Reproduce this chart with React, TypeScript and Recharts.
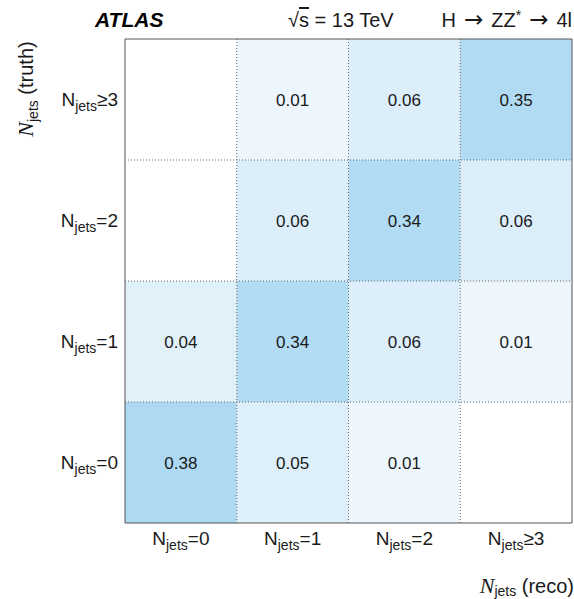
import React from 'react';
import {
  ScatterChart,
  Scatter,
  XAxis,
  YAxis,
  ReferenceArea,
  ReferenceLine,
} from 'recharts';

// Bin labels (reco on x, truth on y), lowest bin first
const recoBins = ['=0', '=1', '=2', '≥3'];
const truthBins = ['=0', '=1', '=2', '≥3'];

// Migration fractions, one row per truth bin, columns are reco bins
const truthRow0 = [0.38, 0.05, 0.01, 0];
const truthRow1 = [0.04, 0.34, 0.06, 0.01];
const truthRow2 = [0, 0.06, 0.34, 0.06];
const truthRow3 = [0, 0.01, 0.06, 0.35];
const truthRows = [truthRow0, truthRow1, truthRow2, truthRow3];

const cells = truthRows.flatMap((row, truth) =>
  row.map((value, reco) => ({ reco, truth, value }))
);

const binCenters = [0, 1, 2, 3];
const binEdges = [0.5, 1.5, 2.5];
const domain: [number, number] = [-0.5, 3.5];

const W = 574;
const H = 599;
const SANS = '"Liberation Sans", Arial, Helvetica, sans-serif';
const SERIF = '"Liberation Serif", "Times New Roman", serif';
const ARROW = '"DejaVu Sans", sans-serif';
const TEXT = '#1a1a1a';

// White -> light blue, square-root scaled so small fractions stay visible
const MAX_FRACTION = 0.38;
const TOP_RGB = [174, 217, 243];
function cellColor(v: number): string {
  if (v <= 0) return '#ffffff';
  const t = 0.08 + 0.92 * Math.min(1, Math.sqrt(v / MAX_FRACTION));
  const c = TOP_RGB.map((ch) => Math.round(255 - (255 - ch) * t));
  return `rgb(${c[0]},${c[1]},${c[2]})`;
}

function NjetsLabel(props: any) {
  const { x, y, text, anchor } = props;
  return (
    <text x={x} y={y} textAnchor={anchor} fill={TEXT} fontFamily={SANS}>
      <tspan fontSize={19}>N</tspan>
      <tspan fontSize={14} dy={5}>jets</tspan>
      <tspan fontSize={19} dy={-5}>{text}</tspan>
    </text>
  );
}

function XTick(props: any) {
  const { x, y, payload } = props;
  return <NjetsLabel x={x} y={y + 20} anchor="middle" text={recoBins[payload.value]} />;
}

function YTick(props: any) {
  const { x, y, payload } = props;
  return <NjetsLabel x={x} y={y + 6} anchor="end" text={truthBins[payload.value]} />;
}

function ValueLabel(props: any) {
  const { cx, cy, payload } = props;
  if (!payload || payload.value <= 0) return <g />;
  return (
    <text
      x={cx}
      y={cy + 6}
      textAnchor="middle"
      fontSize={17}
      fontFamily={SANS}
      fill={TEXT}
    >
      {payload.value.toFixed(2)}
    </text>
  );
}

export default function App() {
  return (
    <div style={{ position: 'fixed', left: 0, top: 0, width: W, height: H, background: '#fff' }}>
      <ScatterChart
        width={W}
        height={H}
        margin={{ top: 39, right: 2, bottom: 16, left: 0 }}
      >
        <XAxis
          type="number"
          dataKey="reco"
          domain={domain}
          ticks={binCenters}
          axisLine={false}
          tickLine={false}
          tickSize={0}
          height={60}
          tick={<XTick />}
          interval={0}
        />
        <YAxis
          type="number"
          dataKey="truth"
          domain={domain}
          ticks={binCenters}
          axisLine={false}
          tickLine={false}
          tickSize={0}
          tickMargin={7}
          width={125}
          tick={<YTick />}
          interval={0}
        />
        {cells.map((c) => (
          <ReferenceArea
            key={`cell-${c.reco}-${c.truth}`}
            x1={c.reco - 0.5}
            x2={c.reco + 0.5}
            y1={c.truth - 0.5}
            y2={c.truth + 0.5}
            fill={cellColor(c.value)}
            fillOpacity={1}
            stroke="none"
            ifOverflow="visible"
          />
        ))}
        {binEdges.map((e) => (
          <ReferenceLine
            key={`vx-${e}`}
            x={e}
            stroke="#666"
            strokeDasharray="1 2"
            ifOverflow="visible"
          />
        ))}
        {binEdges.map((e) => (
          <ReferenceLine
            key={`hy-${e}`}
            y={e}
            stroke="#666"
            strokeDasharray="1 2"
            ifOverflow="visible"
          />
        ))}
        <ReferenceArea
          x1={domain[0]}
          x2={domain[1]}
          y1={domain[0]}
          y2={domain[1]}
          fill="none"
          fillOpacity={0}
          stroke="#555"
          strokeWidth={1}
          ifOverflow="visible"
        />
        <Scatter
          data={cells}
          isAnimationActive={false}
          shape={<ValueLabel />}
        />
      </ScatterChart>
      <svg
        width={W}
        height={H}
        style={{ position: 'absolute', left: 0, top: 0, pointerEvents: 'none' }}
      >
        <text
          x={95}
          y={27}
          fontFamily={SANS}
          fontSize={21}
          fontWeight="bold"
          fontStyle="italic"
          fill="#000"
        >
          ATLAS
        </text>
        <text x={288} y={27} fontFamily={SANS} fontSize={20} fill={TEXT}>
          <tspan>√</tspan>
          <tspan style={{ textDecoration: 'overline' }}>s</tspan>
          <tspan> = 13 TeV</tspan>
        </text>
        <text x={572} y={27} textAnchor="end" fontFamily={SANS} fontSize={20} fill={TEXT}>
          <tspan>H</tspan>
          <tspan fontFamily={ARROW} fontSize={23} dx={8}>→</tspan>
          <tspan dx={8}>ZZ</tspan>
          <tspan fontSize={14} dy={-7}>*</tspan>
          <tspan fontFamily={ARROW} fontSize={23} dx={8} dy={7}>→</tspan>
          <tspan dx={8}>4l</tspan>
        </text>
        <text
          transform="translate(33, 89) rotate(-90)"
          textAnchor="middle"
          fill={TEXT}
          fontSize={20}
          fontFamily={SANS}
        >
          <tspan fontFamily={SERIF} fontStyle="italic" fontSize={22}>N</tspan>
          <tspan fontSize={14} dy={5}>jets</tspan>
          <tspan dy={-5}> (truth)</tspan>
        </text>
        <text
          x={574}
          y={593}
          textAnchor="end"
          fill={TEXT}
          fontSize={20}
          fontFamily={SANS}
        >
          <tspan fontFamily={SERIF} fontStyle="italic" fontSize={22}>N</tspan>
          <tspan fontSize={14} dy={3}>jets</tspan>
          <tspan dy={-3}> (reco)</tspan>
        </text>
      </svg>
    </div>
  );
}
